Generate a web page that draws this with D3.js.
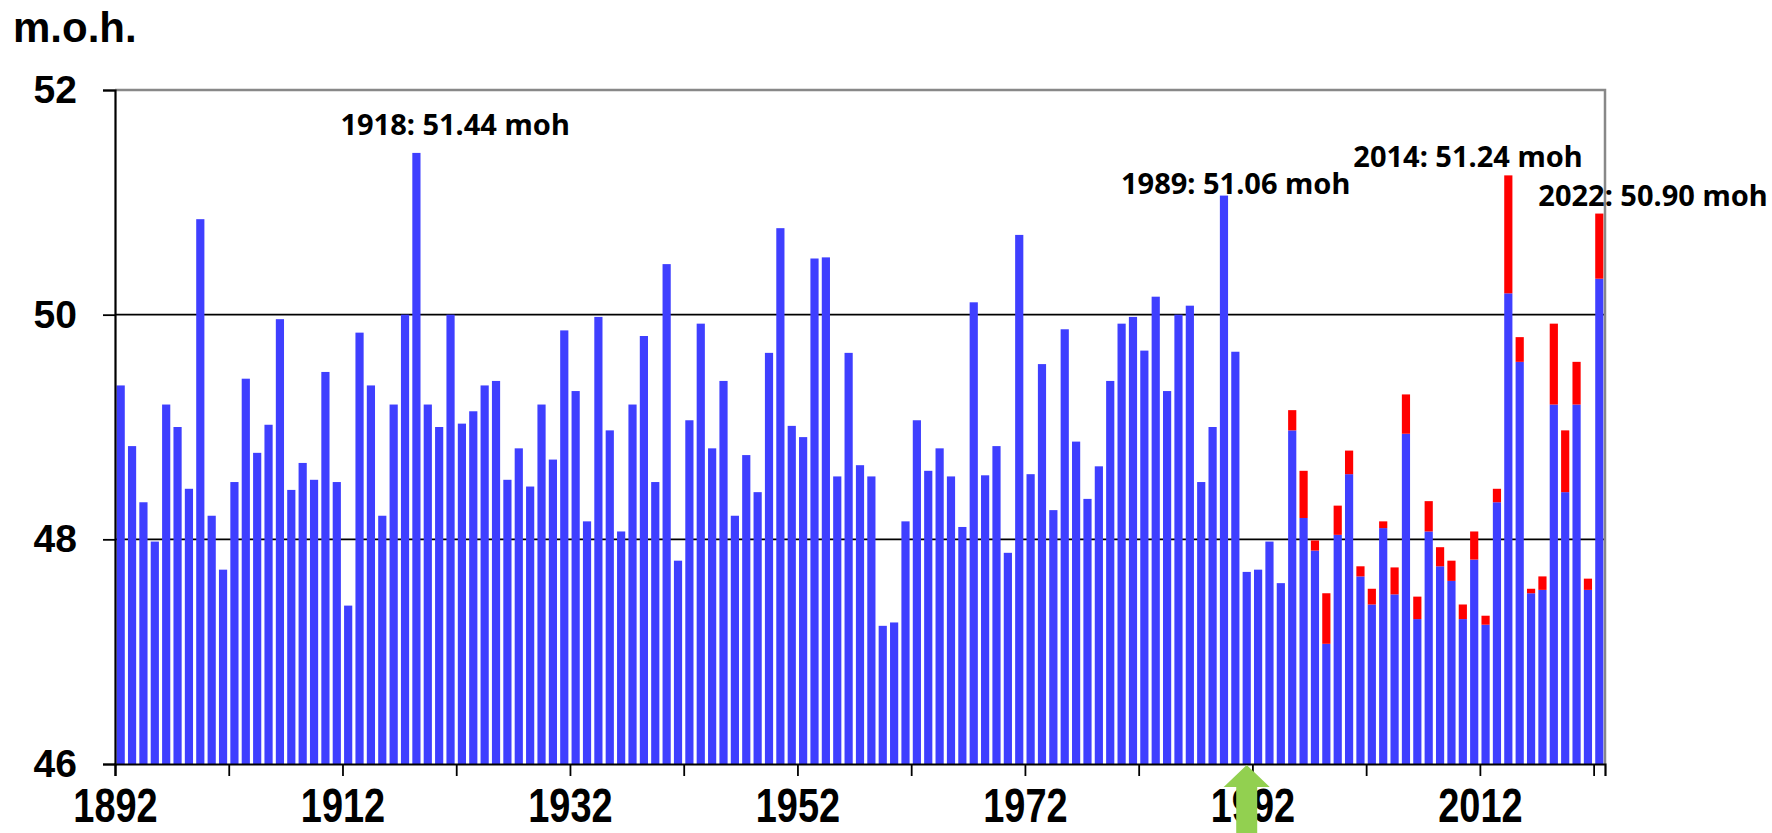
<!DOCTYPE html>
<html>
<head>
<meta charset="utf-8">
<script src="https://cdn.jsdelivr.net/npm/d3@7"></script>
<style>
  html, body { margin: 0; padding: 0; background: #fff; }
  svg { display: block; }
</style>
</head>
<body>
<div id="chart"></div>
<script>

//==================================//
// Data
//

const years = d3.range(1892, 2023)

// water level, m.o.h. (blue part)
const level = [
    49.37, 48.83, 48.33, 47.98, 49.20, 49.00, 48.45, 50.85, 48.21, 47.73,
    48.51, 49.43, 48.77, 49.02, 49.96, 48.44, 48.68, 48.53, 49.49, 48.51,
    47.41, 49.84, 49.37, 48.21, 49.20, 50.00, 51.44, 49.20, 49.00, 50.00,
    49.03, 49.14, 49.37, 49.41, 48.53, 48.81, 48.47, 49.20, 48.71, 49.86,
    49.32, 48.16, 49.98, 48.97, 48.07, 49.20, 49.81, 48.51, 50.45, 47.81,
    49.06, 49.92, 48.81, 49.41, 48.21, 48.75, 48.42, 49.66, 50.77, 49.01,
    48.91, 50.50, 50.51, 48.56, 49.66, 48.66, 48.56, 47.23, 47.26, 48.16,
    49.06, 48.61, 48.81, 48.56, 48.11, 50.11, 48.57, 48.83, 47.88, 50.71,
    48.58, 49.56, 48.26, 49.87, 48.87, 48.36, 48.65, 49.41, 49.92, 49.98,
    49.68, 50.16, 49.32, 50.00, 50.08, 48.51, 49.00, 51.06, 49.67, 47.71,
    47.73, 47.98, 47.61, 48.97, 48.19, 47.90, 47.07, 48.04, 48.58, 47.67,
    47.42, 48.10, 47.51, 48.94, 47.29, 48.07, 47.76, 47.63, 47.29, 47.82,
    47.24, 48.33, 50.19, 49.58, 47.52, 47.55, 49.20, 48.42, 49.20, 47.55,
    50.32
]

// red part on top of the blue, from 1995
const extraFrom = 1995
const extra = [
    0.18, 0.42, 0.09, 0.45, 0.26, 0.21, 0.09, 0.14, 0.06, 0.24,
    0.35, 0.20, 0.27, 0.17, 0.18, 0.13, 0.25, 0.08, 0.12, 1.05,
    0.22, 0.04, 0.12, 0.72, 0.55, 0.38, 0.10, 0.58
]

const yTicks = [46, 48, 50, 52]
const xTickYears = d3.range(1892, 2023, 10)
const xLabelYears = [1892, 1912, 1932, 1952, 1972, 1992, 2012]

const peakYears = [1918, 1989, 2014, 2022]
const arrowYear = 1991

//==================================//
// Layout
//

const svgw = 1772, svgh = 833
const plotL = 115, plotR = 1605, plotT = 90, plotB = 764

const table = years.map((yr, i) => {
    let e = yr >= extraFrom ? extra[yr - extraFrom] : 0
    return {year: yr, level: level[i], extra: e}
})

const series = d3.stack().keys(['level', 'extra'])(table)

const x = d3.scaleBand()
    .domain(years)
    .range([plotL, plotR])
    .paddingInner(0.28)
    .paddingOuter(0.14)

const xEdge = d3.scaleLinear()
    .domain([1892, 2023])
    .range([plotL, plotR])

const y = d3.scaleLinear()
    .domain([46, 52])
    .range([plotB, plotT])

let svg = d3.select('#chart').append('svg')
    .attr('width', svgw)
    .attr('height', svgh)

//====[ gridlines ]====//

svg.append('g')
    .selectAll('line')
    .data(yTicks.filter(d => d > 46 && d < 52))
    .enter().append('line')
    .attr('x1', plotL).attr('x2', plotR)
    .attr('y1', d => y(d)).attr('y2', d => y(d))
    .attr('stroke', '#000')
    .attr('stroke-width', 1.6)

//====[ bars ]====//

const colors = ['#3f3fff', '#ff0000']

svg.append('g')
    .selectAll('g')
    .data(series)
    .enter().append('g')
    .attr('fill', (d, i) => colors[i])
    .selectAll('rect')
    .data(d => d.filter(s => s[1] - s[0] > 0))
    .enter().append('rect')
    .attr('x', d => x(d.data.year))
    .attr('width', x.bandwidth())
    .attr('y', d => y(d[1]))
    .attr('height', d => y(d[0] === 0 ? 46 : d[0]) - y(d[1]))

//====[ frame ]====//

svg.append('path')
    .attr('d', 'M' + plotL + ',' + y(52) + 'H' + plotR + 'V' + plotB)
    .attr('fill', 'none')
    .attr('stroke', '#888')
    .attr('stroke-width', 2.5)

//====[ y axis ]====//

let gy = svg.append('g')
    .attr('transform', 'translate(' + plotL + ',0)')
    .call(d3.axisLeft(y).tickValues(yTicks).tickSize(12).tickPadding(26).tickFormat(d3.format('d')))

gy.select('.domain').attr('stroke', '#000').attr('stroke-width', 2.2)
gy.selectAll('.tick line').attr('stroke', '#000').attr('stroke-width', 1.8)
gy.selectAll('.tick text')
    .attr('font-family', '"Liberation Sans", Arial, sans-serif')
    .attr('font-weight', 'bold')
    .attr('font-size', 39)
    .attr('fill', '#000')

//====[ x axis ]====//

let gx = svg.append('g')
    .attr('transform', 'translate(0,' + plotB + ')')
    .call(d3.axisBottom(xEdge).tickValues(xTickYears).tickSize(12)
        .tickFormat(d => xLabelYears.includes(d) ? d : ''))

gx.select('.domain').attr('stroke', '#000').attr('stroke-width', 2.2)
gx.selectAll('.tick line').attr('stroke', '#000').attr('stroke-width', 1.8)
gx.selectAll('.tick text')
    .attr('font-family', '"Liberation Sans", Arial, sans-serif')
    .attr('font-weight', 'bold')
    .attr('font-size', 48)
    .attr('fill', '#000')
    .attr('dy', 0)
    .attr('y', 0)
    .attr('transform', 'translate(0,58) scale(0.79,1)')

//====[ unit label ]====//

svg.append('text')
    .attr('x', 13)
    .attr('y', 42)
    .attr('font-family', '"Liberation Sans", Arial, sans-serif')
    .attr('font-weight', 'bold')
    .attr('font-size', 42)
    .text('m.o.h.')

//====[ peak labels ]====//

const labelShift = {1918: [-76, -18], 1989: [-103, -2], 2014: [-155, -8], 2022: [-61, -8]}

svg.append('g')
    .selectAll('text')
    .data(table.filter(d => peakYears.includes(d.year)))
    .enter().append('text')
    .attr('x', d => x(d.year) + x.bandwidth() / 2 + labelShift[d.year][0])
    .attr('y', d => y(d.level + d.extra) + labelShift[d.year][1])
    .attr('font-family', '"Noto Sans", sans-serif')
    .attr('font-weight', 'bold')
    .attr('font-size', 29)
    .attr('fill', '#000')
    .text(d => d.year + ': ' + (d.level + d.extra).toFixed(2) + ' moh')

//====[ green arrow ]====//

let ax = x(arrowYear) + x.bandwidth() / 2
let ay = plotB + 1
svg.append('path')
    .attr('d', 'M' + ax + ',' + ay +
        'L' + (ax + 23) + ',' + (ay + 22) +
        'L' + (ax + 10.5) + ',' + (ay + 22) +
        'L' + (ax + 10.5) + ',' + svgh +
        'L' + (ax - 10.5) + ',' + svgh +
        'L' + (ax - 10.5) + ',' + (ay + 22) +
        'L' + (ax - 23) + ',' + (ay + 22) + 'Z')
    .attr('fill', '#92d050')

</script>
</body>
</html>
